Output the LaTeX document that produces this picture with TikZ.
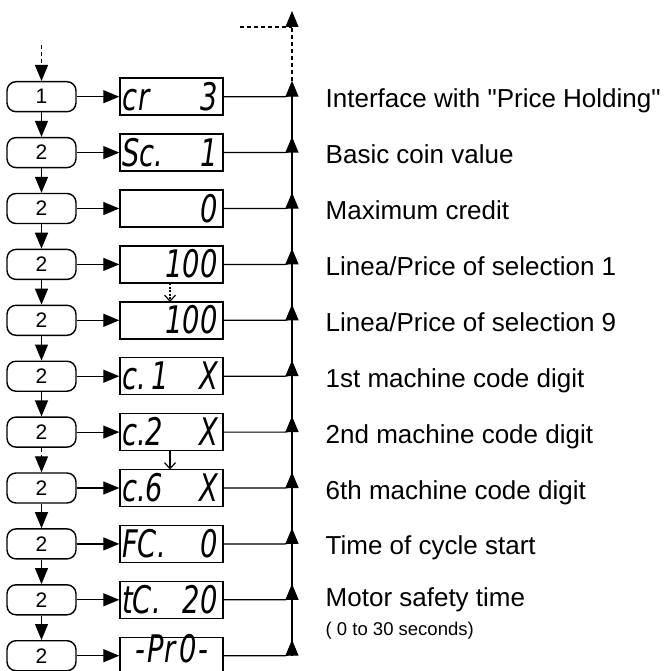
\documentclass[tikz,border=0pt]{standalone}
\usepackage{fontspec}
\usepackage{graphicx}
\setmainfont{Liberation Sans}
\newfontfamily\lblfont{Liberation Sans}
\newfontfamily\segfont{DejaVu Sans}
\usetikzlibrary{arrows.meta}
\newcommand\segtxt[1]{\scalebox{0.72}[1]{#1}}
\tikzset{
  keybox/.style={draw, line width=1.4pt, rounded corners=9pt, minimum width=69pt, minimum height=30pt, inner sep=0pt, font=\lblfont\fontsize{21}{21}\selectfont},
  dispbox/.style={draw, line width=1.4pt, minimum width=103pt, minimum height=37pt, inner sep=0pt},
  seg/.style={inner sep=0pt, font=\segfont\itshape\fontsize{38}{38}\selectfont},
  lbl/.style={anchor=base west, inner sep=0pt, font=\lblfont\fontsize{26}{26}\selectfont},
  small/.style={anchor=base west, inner sep=0pt, font=\lblfont\fontsize{18.5}{18.5}\selectfont},
  arr/.style={line width=1.2pt, -{Triangle[length=16pt,width=13pt]}},
  link/.style={line width=1.2pt},
  vee/.style={line width=1.2pt, -{Straight Barb[length=6pt,width=11pt]}},
  dashline/.style={dash pattern=on 4pt off 3pt}
}
\begin{document}
\begin{tikzpicture}[x=1pt,y=-1pt]
\useasboundingbox (0,0) rectangle (664,671);
% rows: y = 96.7 + (i-1)*55.9
\foreach \i/\k in {1/1,2/2,3/2,4/2,5/2,6/2,7/2,8/2,9/2,10/2,11/2}{
  \pgfmathsetmacro\y{96.7+(\i-1)*55.9}
  \node[keybox] (r\i) at (41.5,\y) {\k};
  \node[dispbox] (d\i) at (171.5,\y) {};
  \coordinate (j\i) at (292,\y);
  \coordinate (t\i) at (292,{\y-16});
  \coordinate (c\i) at (292,{\y-9});
  \draw[arr] (r\i) -- (d\i);
  \draw[link, rounded corners=7pt] (d\i.east) -| (c\i);
}
% display texts
\foreach \i/\L/\R in {1/{c\kern2pt r}/3, 2/Sc./1, 3//0, 4//100, 5//100, 6/{c.\kern8pt 1}/X, 7/c.2/X, 8/c.6/X, 9/FC./0, 10/tC./20}{
  \pgfmathsetmacro\yb{96.7+(\i-1)*55.9+13.5}
  \node[seg, anchor=base west] (dl\i) at (122,\yb) {\segtxt{\L}};
  \node[seg, anchor=base east] (dr\i) at (218,\yb) {\segtxt{\R}};
}
\node[seg, anchor=base] (dc11) at (171.5,662) {\segtxt{-\kern3pt P\kern1pt r\kern5pt 0\kern2pt -}};
% left chain
\coordinate (s0) at (41.5,45);
\draw[arr, dashline] (s0) -- (r1);
\foreach \a/\b in {1/2,2/3,3/4,4/5,5/6,6/7,8/9,9/10,10/11}{
  \draw[arr] (r\a) -- (r\b);
}
\draw[arr, dashline] (r7) -- (r8);
% small arrows between displays
\coordinate (v4) at (170,283);
\coordinate (v5) at (170,302);
\coordinate (v7) at (170,450.5);
\coordinate (v8) at (170,469.5);
\draw[vee, dash pattern=on 2pt off 1.5pt] (v4) -- (v5);
\draw[vee] (v7) -- (v8);
% main vertical line
\foreach \a/\b in {2/1,3/2,4/3,5/4,6/5,7/6,8/7,9/8,10/9,11/10}{
  \draw[arr] (j\a) -- (t\b);
}
\draw[arr] (j11) -- (t11);
\coordinate (top) at (292,11);
\coordinate (topb) at (292,27);
\coordinate (lft) at (240,27);
\draw[arr, dashline] (t1) -- (top);
\draw[link, dashline] (lft) -- (topb);
% labels
\foreach \i/\txt in {1/{Interface with "Price Holding"}, 2/{Basic coin value}, 3/{Maximum credit}, 4/{Linea/Price of selection 1}, 5/{Linea/Price of selection 9}, 6/{1st machine code digit}, 7/{2nd machine code digit}, 8/{6th machine code digit}, 9/{Time of cycle start}}{
  \pgfmathsetmacro\yl{96.7+(\i-1)*55.9+11}
  \node[lbl] (l\i) at (325.5,\yl) {\txt};
}
\node[lbl] (l10) at (325.5,606.5) {Motor safety time};
\node[small] (l10b) at (325.5,635) {( 0 to 30 seconds)};
\end{tikzpicture}
\end{document}
